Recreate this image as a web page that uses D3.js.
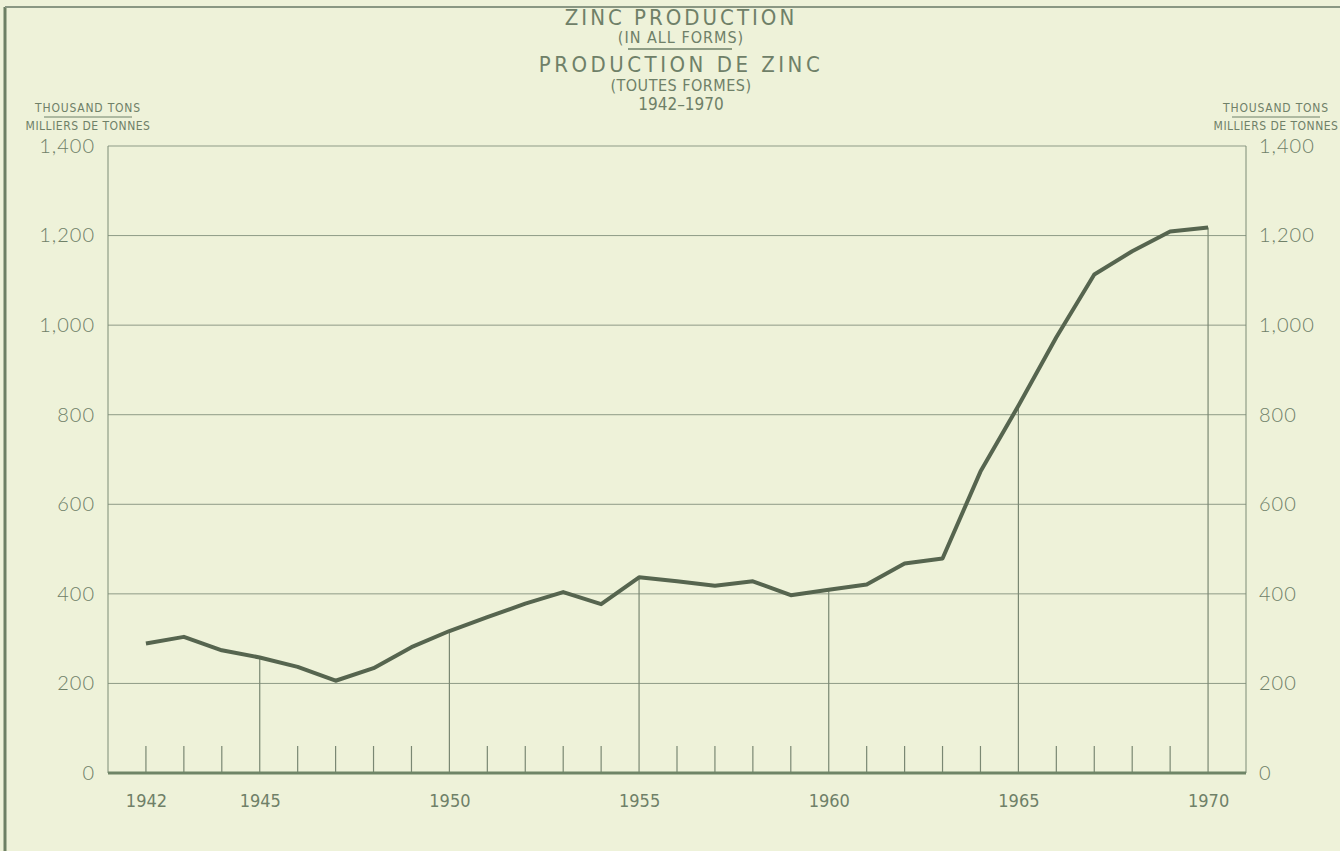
<!DOCTYPE html>
<html>
<head>
<meta charset="utf-8">
<script src="https://cdn.jsdelivr.net/npm/d3@7"></script>
<style>
  body { margin: 0; background: #eef2d9; }
  svg { display: block; }
</style>
</head>
<body>
<div id="chart"></div>
<script>
// Page size
const width = 1340;
const height = 851;

// Data (thousand tons)
const years = [1942, 1943, 1944, 1945, 1946, 1947, 1948, 1949, 1950, 1951,
               1952, 1953, 1954, 1955, 1956, 1957, 1958, 1959, 1960, 1961,
               1962, 1963, 1964, 1965, 1966, 1967, 1968, 1969, 1970];
const production = [289, 304, 274, 258, 237, 206, 234, 281, 317, 348,
                    378, 404, 377, 437, 428, 418, 428, 397, 409, 421,
                    468, 479, 673, 820, 973, 1113, 1165, 1209, 1218];
const yearLabels = [1942, 1945, 1950, 1955, 1960, 1965, 1970];
const valueTicks = [0, 200, 400, 600, 800, 1000, 1200, 1400];
const titleLines = ["ZINC PRODUCTION", "(IN ALL FORMS)", "PRODUCTION DE ZINC", "(TOUTES FORMES)", "1942\u20131970"];

const ink = "#6f8068";
const lineInk = "#56654f";
const narrow = "'Liberation Sans Narrow', 'DejaVu Sans Condensed', sans-serif";
const round = "Lato, 'Open Sans', sans-serif";

let svg = d3.select("#chart").append("svg")
            .attr("width", width)
            .attr("height", height)

svg.append("rect")
   .attr("width", width)
   .attr("height", height)
   .attr("fill", "#eef2d9")

// old sheet border
svg.append("line").attr("x1", 5).attr("x2", 5).attr("y1", 7).attr("y2", height)
   .attr("stroke", "#6d8064").attr("stroke-width", 3)
svg.append("line").attr("x1", 5).attr("x2", width).attr("y1", 7).attr("y2", 7)
   .attr("stroke", "#8a9783").attr("stroke-width", 2)

let x = d3.scaleLinear().domain([1941, 1971]).range([108, 1246]);
let y = d3.scaleLinear().domain([0, 1400]).range([773, 146]);

// horizontal grid
svg.append("g")
   .selectAll("line")
   .data(valueTicks.filter(v => v > 0))
   .join("line")
   .attr("x1", x(1941)).attr("x2", x(1971))
   .attr("y1", d => y(d)).attr("y2", d => y(d))
   .attr("stroke", "#8e9b87")
   .attr("stroke-width", 1)

// frame sides
svg.append("line").attr("x1", x(1941)).attr("x2", x(1941)).attr("y1", y(1400)).attr("y2", y(0))
   .attr("stroke", "#7d8c76")
svg.append("line").attr("x1", x(1971)).attr("x2", x(1971)).attr("y1", y(1400)).attr("y2", y(0))
   .attr("stroke", "#7d8c76")

// yearly ticks, with drop lines every five years
svg.append("g")
   .selectAll("line")
   .data(years.map((yr, i) => ({yr: yr, v: production[i]})))
   .join("line")
   .attr("x1", d => x(d.yr)).attr("x2", d => x(d.yr))
   .attr("y1", d => d.yr % 5 === 0 ? y(d.v) : y(0) - 27)
   .attr("y2", y(0))
   .attr("stroke", "#7a8873")
   .attr("stroke-width", 1.2)

// baseline
svg.append("line").attr("x1", x(1941)).attr("x2", x(1971)).attr("y1", y(0)).attr("y2", y(0))
   .attr("stroke", "#6f8567").attr("stroke-width", 3)

// the series
let line = d3.line()
             .x((d, i) => x(years[i]))
             .y(d => y(d))

svg.append("path")
   .datum(production)
   .attr("d", line)
   .attr("fill", "none")
   .attr("stroke", lineInk)
   .attr("stroke-width", 4)
   .attr("stroke-linejoin", "round")

// value axes, left and right
let fmt = d3.format(",");
let leftAxis = svg.append("g")
                  .attr("transform", "translate(" + (x(1941) - 10) + ",0)")
                  .call(d3.axisLeft(y).tickValues(valueTicks).tickSize(0).tickFormat(fmt))
let rightAxis = svg.append("g")
                   .attr("transform", "translate(" + (x(1971) + 10) + ",0)")
                   .call(d3.axisRight(y).tickValues(valueTicks).tickSize(0).tickFormat(fmt))
for (let ax of [leftAxis, rightAxis]) {
  ax.select(".domain").remove()
  ax.selectAll("text")
    .attr("fill", ink)
    .style("font-family", round)
    .style("font-weight", 300)
    .style("font-size", "20px")
    .style("letter-spacing", "1px")
}

// year labels
let xAxis = svg.append("g")
               .attr("transform", "translate(0," + (y(0) + 18) + ")")
               .call(d3.axisBottom(x).tickValues(yearLabels).tickSize(0).tickFormat(d3.format("d")))
xAxis.select(".domain").remove()
xAxis.selectAll("text")
     .attr("fill", ink)
     .style("font-family", narrow)
     .style("font-size", "18px")

// titles
let titleY = [25, 43, 72, 91, 110];
let titleSize = [22, 16, 22, 16, 17];
let titleSpacing = [3, 1, 3.5, 0.5, 0];
svg.append("g")
   .selectAll("text")
   .data(titleLines)
   .join("text")
   .attr("x", 681)
   .attr("y", (d, i) => titleY[i])
   .attr("text-anchor", "middle")
   .attr("fill", ink)
   .style("font-family", narrow)
   .style("font-size", (d, i) => titleSize[i] + "px")
   .style("letter-spacing", (d, i) => titleSpacing[i] + "px")
   .text(d => d)
svg.append("line").attr("x1", 628).attr("x2", 732).attr("y1", 49).attr("y2", 49)
   .attr("stroke", ink).attr("stroke-width", 1.5)

// unit captions
for (let cx of [88, 1276]) {
  svg.append("text").attr("x", cx).attr("y", 112).attr("text-anchor", "middle")
     .attr("fill", ink).style("font-family", narrow).style("font-size", "12px")
     .style("letter-spacing", "0.8px")
     .text("THOUSAND TONS")
  svg.append("line").attr("x1", cx - 44).attr("x2", cx + 44).attr("y1", 117).attr("y2", 117)
     .attr("stroke", ink).attr("stroke-width", 1)
  svg.append("text").attr("x", cx).attr("y", 130).attr("text-anchor", "middle")
     .attr("fill", ink).style("font-family", narrow).style("font-size", "12px")
     .style("letter-spacing", "0.5px")
     .text("MILLIERS DE TONNES")
}
</script>
</body>
</html>
